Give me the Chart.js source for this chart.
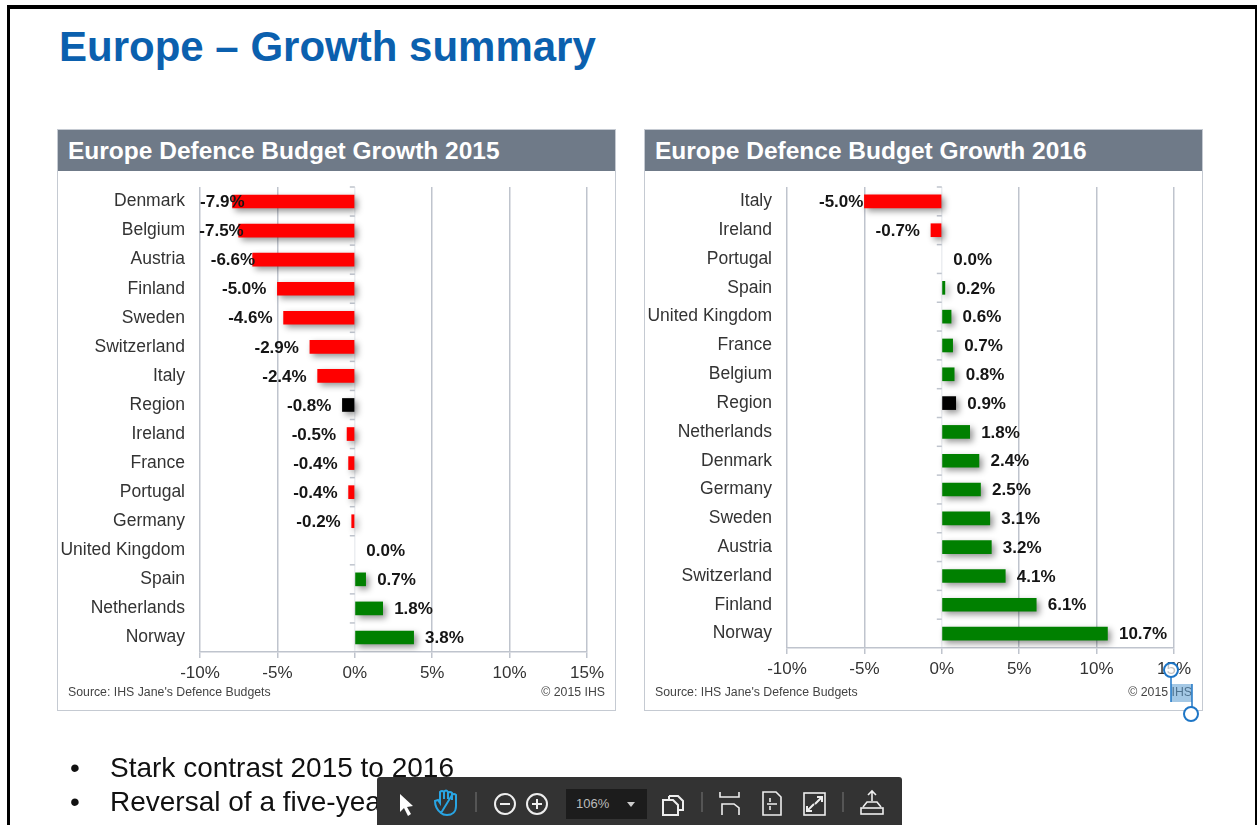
<!DOCTYPE html>
<html>
<head>
<meta charset="utf-8">
<title>Europe – Growth summary</title>
<script src="https://cdn.jsdelivr.net/npm/chart.js@4"></script>
<style>
    html, body { margin: 0; padding: 0; background: #fff; overflow: hidden; }
    body { width: 1259px; height: 825px; position: relative; font-family: "Liberation Sans", Arial, sans-serif; }
    .frame { position: absolute; left: 7px; top: 5px; width: 1250px; height: 830px; box-sizing: border-box; border-top: 4px solid #000; border-left: 3px solid #000; border-right: 2px solid #000; }
    h1 { position: absolute; left: 59px; top: 23px; margin: 0; font-size: 42px; line-height: 48px; font-weight: bold; color: #0b60ae; white-space: nowrap; }
    .panel { position: absolute; top: 129px; width: 559px; height: 582px; box-sizing: border-box; border: 1.5px solid #c5cad2; background: #fff; }
    .panel-head { position: absolute; left: 0; top: 0; right: 0; height: 41px; background: #6f7a88; color: #fff; font-weight: bold; font-size: 24.5px; line-height: 41px; padding-left: 10px; white-space: nowrap; }
    .panel canvas { position: absolute; left: -1.5px; top: 41.5px; }
    .source, .copy { position: absolute; top: 555px; font-size: 12.3px; line-height: 14px; color: #444; white-space: nowrap; }
    .source { left: 10px; }
    .copy { right: 10px; }
    .bullet { position: absolute; left: 110px; font-size: 28px; line-height: 32px; color: #111; white-space: nowrap; }
    .bullet::before { content: "•"; position: absolute; left: -40px; }
    .toolbar { position: absolute; left: 377px; top: 777px; width: 525px; height: 48px; background: #333; border-radius: 3px 3px 0 0; }
    .toolbar svg { position: absolute; left: 0; top: 0; }
    .zoom-box { position: absolute; left: 189px; top: 12px; width: 81px; height: 30px; background: #1c1c1c; color: #bbb; font-size: 13px; line-height: 30px; padding-left: 10px; box-sizing: border-box; }
    .marks { position: absolute; left: 0; top: 0; pointer-events: none; }
</style>
</head>
<body>
<div class="frame"></div>
<h1>Europe – Growth summary</h1>

<div class="panel" style="left:57px">
    <div class="panel-head">Europe Defence Budget Growth 2015</div>
    <canvas id="chart2015" width="559" height="539"></canvas>
    <div class="source">Source: IHS Jane's Defence Budgets</div>
    <div class="copy">© 2015 IHS</div>
</div>
<div class="panel" style="left:644px">
    <div class="panel-head">Europe Defence Budget Growth 2016</div>
    <canvas id="chart2016" width="559" height="539"></canvas>
    <div class="source">Source: IHS Jane's Defence Budgets</div>
    <div class="copy">© 2015 IHS</div>
</div>

<!-- text selection handles over the copyright line -->
<svg class="marks" width="1259" height="825">
    <rect x="1171" y="684" width="21" height="18" fill="#5a9bd0" fill-opacity="0.55"/>
    <line x1="1171" y1="676" x2="1171" y2="702" stroke="#1e76c6" stroke-width="1.5"/>
    <line x1="1192" y1="684" x2="1192" y2="708" stroke="#1e76c6" stroke-width="1.5"/>
    <circle cx="1171" cy="670" r="7" fill="#fff" fill-opacity="0.7" stroke="#1e76c6" stroke-width="2"/>
    <circle cx="1191" cy="714" r="7" fill="#fff" stroke="#1e76c6" stroke-width="2"/>
</svg>

<div class="bullet" style="top:752px">Stark contrast 2015 to 2016</div>
<div class="bullet" style="top:786px">Reversal of a five-yea</div>

<div class="toolbar">
    <svg width="525" height="48" fill="none" stroke="#eee" stroke-width="2">
        <path d="M23 17 L23 35 L27 31 L31 39 L34 37 L30 30 L36 29 Z" fill="#fff" stroke="none"/>
        <path d="M64 36 C60 33 58 28 58 24 L61 23 L63 26 L63 17 M63 22 L63 15 Q65 13 67 15 L67 22 M67 15 Q69 12 71 15 L71 22 M71 16 Q73 14 75 16 L75 23 M75 18 Q77 16 79 18 L79 29 C79 35 75 38 70 38 Q66 38 64 36 Z" stroke="#29a5e3"/>
        <line x1="99" y1="15" x2="99" y2="35" stroke="#555"/>
        <circle cx="128" cy="27" r="10"/><line x1="123" y1="27" x2="133" y2="27"/>
        <circle cx="160" cy="27" r="10"/><line x1="155" y1="27" x2="165" y2="27"/><line x1="160" y1="22" x2="160" y2="32"/>
        <path d="M292 19 L301 19 L306 24 L306 33 L301 33 M292 19 L292 23 M286 23 L296 23 L301 28 L301 38 L286 38 Z"/>
        <line x1="325" y1="15" x2="325" y2="35" stroke="#555"/>
        <path d="M343 15 L343 20 L362 20 L362 15 M345 38 L345 27 L357 27 L362 31 L362 38" stroke-width="1.6"/>
        <path d="M386 15 L399 15 L404 20 L404 38 L386 38 Z M393 21 L393 25 M393 29 L393 33 M390 27 L400 27" stroke-width="1.6"/>
        <rect x="427" y="16" width="21" height="22" stroke-width="1.6"/>
        <path d="M440 20 L445 20 L445 25 M445 20 L438 27 M435 34 L430 34 L430 29 M430 34 L437 27" stroke-width="2"/>
        <line x1="466" y1="15" x2="466" y2="35" stroke="#555"/>
        <path d="M495 24 L495 14 M491 18 L495 14 L499 18 M486 30 L490 25 L500 25 L504 30" stroke-width="1.6"/>
        <rect x="484" y="31" width="22" height="6" stroke-width="1.6"/>
    </svg>
    <div class="zoom-box">106%</div>
    <svg width="525" height="48"><path d="M250 25 L258 25 L254 30 Z" fill="#ccc"/></svg>
</div>

<script>
// budget growth by country, percent
const categories2015 = ['Denmark', 'Belgium', 'Austria', 'Finland', 'Sweden', 'Switzerland', 'Italy', 'Region', 'Ireland', 'France', 'Portugal', 'Germany', 'United Kingdom', 'Spain', 'Netherlands', 'Norway'];
const values2015 = [-7.9, -7.5, -6.6, -5.0, -4.6, -2.9, -2.4, -0.8, -0.5, -0.4, -0.4, -0.2, 0.0, 0.7, 1.8, 3.8];

const categories2016 = ['Italy', 'Ireland', 'Portugal', 'Spain', 'United Kingdom', 'France', 'Belgium', 'Region', 'Netherlands', 'Denmark', 'Germany', 'Sweden', 'Austria', 'Switzerland', 'Finland', 'Norway'];
const values2016 = [-5.0, -0.7, 0.0, 0.2, 0.6, 0.7, 0.8, 0.9, 1.8, 2.4, 2.5, 3.1, 3.2, 4.1, 6.1, 10.7];

const axisMin = -10;
const axisMax = 15;
const axisStep = 5;

// long negative labels get pushed back into the plot
const labelNudge2015 = { Denmark: 23, Belgium: 16, Austria: 13.5 };
const labelNudge2016 = { Italy: 10 };

const FONT = '"Liberation Sans", Arial, sans-serif';
const GRID = '#bfc4cd';

function barColor(name, value) {
    if (value === 0) return 'transparent';
    if (name === 'Region') return '#000000';
    return value < 0 ? '#ff0000' : '#008000';
}

// soft drop shadow under the bars
const barShadow = {
    id: 'barShadow',
    beforeDatasetsDraw(chart) {
        const ctx = chart.ctx;
        ctx.save();
        ctx.shadowColor = 'rgba(0, 0, 0, 0.42)';
        ctx.shadowBlur = 6;
        ctx.shadowOffsetX = 3;
        ctx.shadowOffsetY = 3;
    },
    afterDatasetsDraw(chart) {
        chart.ctx.restore();
    }
};

// little category ticks on the zero line, between the bars
const zeroTicks = {
    id: 'zeroTicks',
    beforeDatasetsDraw(chart) {
        const { ctx, scales } = chart;
        const zero = scales.x.getPixelForValue(0);
        const band = scales.y.getPixelForValue(1) - scales.y.getPixelForValue(0);
        ctx.save();
        ctx.strokeStyle = GRID;
        ctx.lineWidth = 1.5;
        for (let i = 0; i < chart.data.labels.length; i++) {
            const y = scales.y.getPixelForValue(i) - band / 2;
            ctx.beginPath();
            ctx.moveTo(zero - 5, y);
            ctx.lineTo(zero, y);
            ctx.stroke();
        }
        ctx.restore();
    }
};

// bold value next to each bar
const valueLabels = {
    id: 'valueLabels',
    afterDraw(chart, args, opts) {
        const { ctx, scales } = chart;
        const values = chart.data.datasets[0].data;
        ctx.save();
        ctx.font = 'bold 17px ' + FONT;
        ctx.fillStyle = '#151515';
        ctx.textBaseline = 'middle';
        values.forEach((v, i) => {
            const name = chart.data.labels[i];
            const x = scales.x.getPixelForValue(v);
            const y = scales.y.getPixelForValue(i) + 1;
            const text = v.toFixed(1) + '%';
            if (v < 0) {
                ctx.textAlign = 'right';
                ctx.fillText(text, x - 11 + (opts.nudge[name] || 0), y);
            } else {
                ctx.textAlign = 'left';
                ctx.fillText(text, x + 11.5, y);
            }
        });
        ctx.restore();
    }
};

function drawChart(id, categories, values, nudge, axisHeight) {
    new Chart(document.getElementById(id), {
        type: 'bar',
        data: {
            labels: categories,
            datasets: [{
                data: values,
                backgroundColor: categories.map((c, i) => barColor(c, values[i])),
                barThickness: 13,
                borderWidth: 0
            }]
        },
        plugins: [zeroTicks, barShadow, valueLabels],
        options: {
            indexAxis: 'y',
            responsive: false,
            animation: false,
            layout: { padding: { top: 15, right: 29, left: 0, bottom: 0 } },
            plugins: {
                legend: { display: false },
                tooltip: { enabled: false },
                valueLabels: { nudge: nudge }
            },
            scales: {
                x: {
                    type: 'linear',
                    min: axisMin,
                    max: axisMax,
                    afterFit(scale) { scale.height = axisHeight; },
                    border: { color: GRID, width: 1.5 },
                    grid: {
                        color: ctx => ctx.tick && ctx.tick.value === 0 ? '#eceef1' : GRID,
                        tickColor: GRID,
                        lineWidth: 1.5,
                        tickLength: 6
                    },
                    ticks: {
                        stepSize: axisStep,
                        maxRotation: 0,
                        padding: 5,
                        color: '#333',
                        font: { family: FONT, size: 17 },
                        callback: v => v + '%'
                    }
                },
                y: {
                    type: 'category',
                    afterFit(scale) {
                        scale.width = 143;
                        // tick padding would otherwise push the plot top down
                        scale.paddingTop = 0;
                        scale.paddingBottom = 0;
                    },
                    border: { display: false },
                    grid: { display: false, drawTicks: false },
                    ticks: {
                        autoSkip: false,
                        padding: 15,
                        color: '#333',
                        font: { family: FONT, size: 17.5 }
                    }
                }
            }
        }
    });
}

drawChart('chart2015', categories2015, values2015, labelNudge2015, 59);
drawChart('chart2016', categories2016, values2016, labelNudge2016, 63);
</script>
</body>
</html>
